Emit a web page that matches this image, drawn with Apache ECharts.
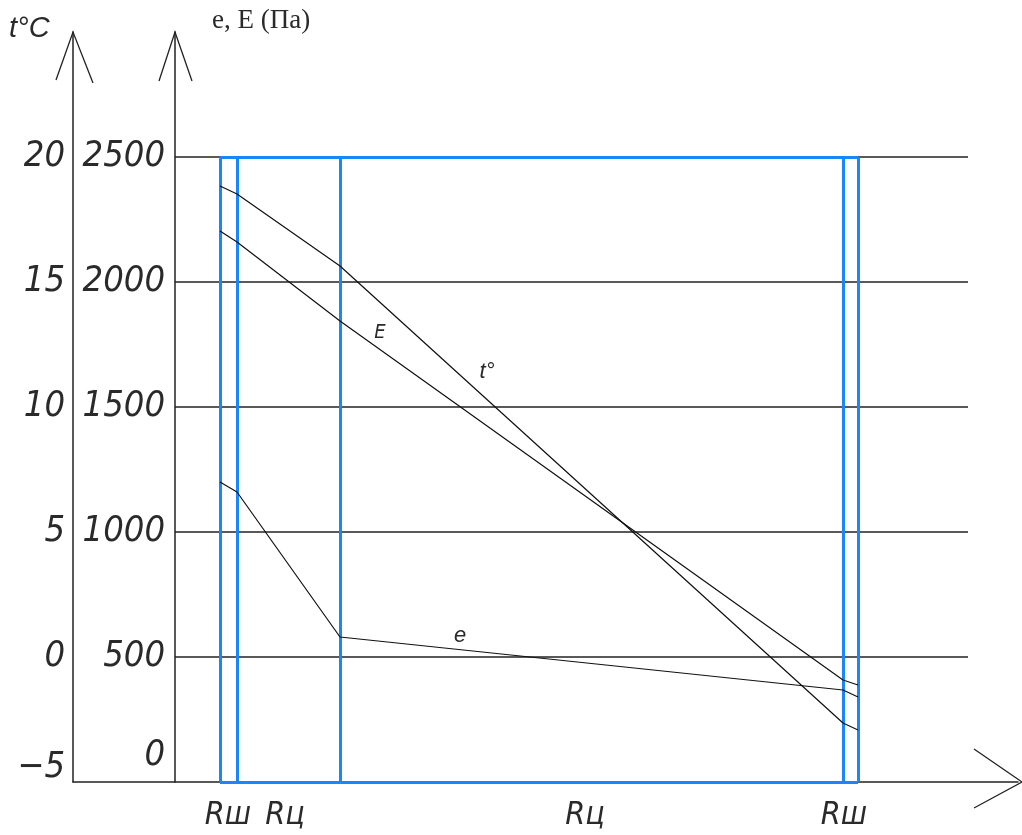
<!DOCTYPE html>
<html>
<head>
<meta charset="utf-8">
<script src="https://cdn.jsdelivr.net/npm/echarts@6/dist/echarts.min.js"></script>
<style>
html,body{margin:0;padding:0;background:#fff;}
#chart{width:1022px;height:835px;}
</style>
</head>
<body>
<div id="chart"></div>
<script>
// layer boundaries (position along wall, arbitrary length units)
const xBounds = [29.4, 32.8, 53.4, 154, 157];
// temperature t°C at each boundary
const tVals = [18.84, 18.52, 15.64, -2.64, -2.92];
// saturation vapour pressure E (Pa)
const EVals = [2204, 2160, 1844, 408, 388];
// actual vapour pressure e (Pa)
const eVals = [1200, 1160, 580, 368, 340];
// tick labels
const tTicks = [-5, 0, 5, 10, 15, 20];
const paTicks = [0, 500, 1000, 1500, 2000, 2500];
// x-axis layer labels
const xLabelPos = [31, 42.4, 102.4, 154.2];
const xLabelText = ['Rш', 'Rц', 'Rц', 'Rш'];
// curve labels [x, value]
const tLabelAt = [82.8, 11.4];
const ELabelAt = [61.4, 1796];
const eLabelAt = [77.4, 584];

const numFont = '"Liberation Sans Narrow", "DejaVu Sans Condensed", sans-serif';
const txtColor = '#2a2a2a';
const blue = '#1a86f7';

const chart = echarts.init(document.getElementById('chart'), null, {renderer: 'canvas'});

const xMin = 0, xMax = 189;
const gridX0 = 20.4, gridX1 = 179; // horizontal reference lines span

function pairs(xs, ys) { return xs.map((x, i) => [x, ys[i]]); }

const labelBase = {fontFamily: numFont, fontSize: 36, fontStyle: 'italic', color: txtColor};

const option = {
  animation: false,
  backgroundColor: '#fff',
  grid: {left: 73, right: 4, top: 32, bottom: 53, containLabel: false, outerBoundsMode: 'none'},
  xAxis: {
    type: 'value', min: xMin, max: xMax,
    axisLine: {show: true, onZero: false, lineStyle: {color: '#222', width: 1.5}},
    axisTick: {show: false},
    splitLine: {show: false},
    axisLabel: {
      customValues: xLabelPos,
      margin: 18,
      fontFamily: numFont, fontSize: 32, fontStyle: 'italic', color: txtColor,
      formatter: function (v) {
        const i = xLabelPos.findIndex(p => Math.abs(p - v) < 1e-6);
        return i >= 0 ? xLabelText[i] : '';
      }
    }
  },
  yAxis: [
    {
      type: 'value', min: -5, max: 25, interval: 5, position: 'left',
      axisLine: {show: true, onZero: false, lineStyle: {color: '#222', width: 1.5}},
      axisTick: {show: false},
      splitLine: {show: false},
      axisLabel: Object.assign({}, labelBase, {
        margin: 8,
        formatter: function (v) {
          if (tTicks.indexOf(v) < 0) return '';
          if (v === -5) return '{lo|−5}';
          return String(v);
        },
        rich: {lo: Object.assign({}, labelBase, {padding: [0, 0, 28, 0]})}
      })
    },
    {
      type: 'value', min: 0, max: 3000, interval: 500, position: 'left', offset: -102,
      axisLine: {show: true, onZero: false, lineStyle: {color: '#222', width: 1.5}},
      axisTick: {show: false},
      splitLine: {show: false},
      axisLabel: Object.assign({}, labelBase, {
        margin: 10,
        formatter: function (v) {
          if (paTicks.indexOf(v) < 0) return '';
          if (v === 0) return '{lo|0}';
          return String(v);
        },
        rich: {lo: Object.assign({}, labelBase, {padding: [0, 0, 52, 0]})}
      })
    }
  ],
  series: [
    {
      name: 'grid', type: 'line', yAxisIndex: 1, data: [], silent: true,
      markLine: {
        silent: true, symbol: 'none', animation: false,
        label: {show: false},
        lineStyle: {color: '#222', width: 1.5, type: 'solid'},
        data: paTicks.filter(v => v > 0).map(v => [{coord: [gridX0, v]}, {coord: [gridX1, v]}])
      },
      z: 1
    },
    {
      name: 'frame', type: 'line', yAxisIndex: 0, data: [], silent: true,
      markLine: {
        silent: true, symbol: 'none', animation: false,
        label: {show: false},
        lineStyle: {color: blue, width: 3, type: 'solid'},
        data: xBounds.map(b => [{coord: [b, -5]}, {coord: [b, 20]}]).concat([
          [{coord: [xBounds[0], 20]}, {coord: [xBounds[xBounds.length - 1], 20]}],
          [{coord: [xBounds[0], -5]}, {coord: [xBounds[xBounds.length - 1], -5]}]
        ])
      },
      z: 2
    },
    {
      name: 't°', type: 'line', yAxisIndex: 0, data: pairs(xBounds, tVals),
      symbol: 'none', lineStyle: {color: '#111', width: 1.2}, z: 5,
      markPoint: {
        symbol: 'circle', symbolSize: 0,
        label: {show: true, formatter: 't°', fontFamily: 'Liberation Sans, sans-serif', fontStyle: 'italic', fontSize: 22, color: txtColor},
        data: [{coord: tLabelAt}]
      }
    },
    {
      name: 'E', type: 'line', yAxisIndex: 1, data: pairs(xBounds, EVals),
      symbol: 'none', lineStyle: {color: '#111', width: 1.2}, z: 5,
      markPoint: {
        symbol: 'circle', symbolSize: 0,
        label: {show: true, formatter: 'E', fontFamily: numFont, fontStyle: 'italic', fontSize: 20, color: txtColor},
        data: [{coord: ELabelAt}]
      }
    },
    {
      name: 'e', type: 'line', yAxisIndex: 1, data: pairs(xBounds, eVals),
      symbol: 'none', lineStyle: {color: '#111', width: 1.2}, z: 5,
      markPoint: {
        symbol: 'circle', symbolSize: 0,
        label: {show: true, formatter: 'e', fontFamily: 'Liberation Sans, sans-serif', fontStyle: 'italic', fontSize: 22, color: txtColor},
        data: [{coord: eLabelAt}]
      }
    }
  ]
};

chart.setOption(option);

// open arrow heads at the ends of the axes
const tTop = chart.convertToPixel({xAxisIndex: 0, yAxisIndex: 0}, [xMin, 25]);
const paTop = chart.convertToPixel({xAxisIndex: 0, yAxisIndex: 1}, [xMin, 3000]);
const paX = tTop[0] + 102;
const xEnd = chart.convertToPixel({xAxisIndex: 0, yAxisIndex: 0}, [xMax, -5]);
const arrowStyle = {stroke: '#222', lineWidth: 1.3, fill: null};

chart.setOption({
  graphic: [
    {type: 'polyline', shape: {points: [[tTop[0] - 17, tTop[1] + 48], [tTop[0], tTop[1]], [tTop[0] + 20, tTop[1] + 51]]}, style: arrowStyle, silent: true},
    {type: 'polyline', shape: {points: [[paX - 16, paTop[1] + 49], [paX, paTop[1]], [paX + 17, paTop[1] + 49]]}, style: arrowStyle, silent: true},
    {type: 'polyline', shape: {points: [[xEnd[0] - 44, xEnd[1] - 33], [xEnd[0] + 4, xEnd[1]], [xEnd[0] - 44, xEnd[1] + 26]]}, style: arrowStyle, silent: true},
    {type: 'text', left: 9, top: 14, silent: true,
     style: {text: 't°C', fontFamily: 'Liberation Sans, sans-serif', fontStyle: 'italic', fontSize: 29, fill: txtColor}},
    {type: 'text', left: 212, top: 7, silent: true,
     style: {text: 'e, E (Па)', fontFamily: '"Liberation Serif", serif', fontSize: 27, fill: txtColor}}
  ]
});
</script>
</body>
</html>
